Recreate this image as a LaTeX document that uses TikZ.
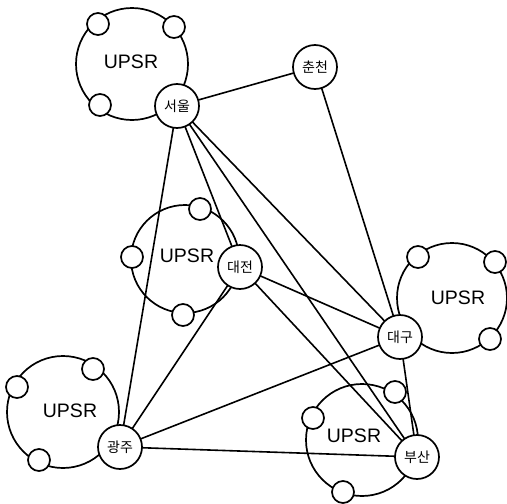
\documentclass[tikz,border=0pt]{standalone}
\usepackage{fontspec}
\setmainfont{Liberation Sans}
\newfontfamily\kr{Noto Sans CJK KR}
\begin{document}
\begin{tikzpicture}[x=1pt,y=-1pt,
  ring/.style={circle,draw,line width=1.7pt,inner sep=0pt},
  sm/.style={circle,draw,fill=white,line width=1.7pt,minimum size=22pt,inner sep=0pt},
  city/.style={circle,draw,fill=white,line width=1.7pt,minimum size=44pt,inner sep=0pt,font=\kr\fontsize{14}{14}\selectfont},
  lbl/.style={font=\fontsize{19.5}{19.5}\selectfont},
  link/.style={line width=1.6pt}]
\useasboundingbox (0,0) rectangle (507,504);
% rings
\node[ring,minimum size=112pt] (r1) at (132,64) {};
\node[ring,minimum size=108pt] (r2) at (185,259) {};
\node[ring,minimum size=110pt] (r3) at (452,298) {};
\node[ring,minimum size=112pt] (r4) at (63,412) {};
\node[ring,minimum size=112pt] (r5) at (362,440) {};
\node[lbl] (u1) at (131,62) {UPSR};
\node[lbl] (u2) at (187,256) {UPSR};
\node[lbl] (u3) at (458,298) {UPSR};
\node[lbl] (u4) at (70,411) {UPSR};
\node[lbl] (u5) at (354,436) {UPSR};
% cities coordinates
\coordinate (cs) at (177,106);
\coordinate (cc) at (315,67);
\coordinate (cd) at (240,267);
\coordinate (cg) at (400,337);
\coordinate (cj) at (120,447);
\coordinate (cb) at (417,457);
% links
\draw[link] (cs) -- (cc);
\draw[link] (cs) -- (cj);
\draw[link] (cs) -- (cd);
\draw[link] (cs) -- (cg);
\draw[link] (cs) -- (cb);
\draw[link] (cc) -- (cg);
\draw[link] (cd) -- (cj);
\draw[link] (cd) -- (cg);
\draw[link] (cd) -- (cb);
\draw[link] (cg) -- (cj);
\draw[link] (cg) -- (cb);
\draw[link] (cj) -- (cb);
% small circles
\node[sm] (s11) at (98,24) {};
\node[sm] (s12) at (174,27) {};
\node[sm] (s13) at (100,105) {};
\node[sm] (s21) at (200,209) {};
\node[sm] (s22) at (132,257) {};
\node[sm] (s23) at (183,315) {};
\node[sm] (s31) at (418,257) {};
\node[sm] (s32) at (495,262) {};
\node[sm] (s33) at (490,339) {};
\node[sm] (s41) at (17,387) {};
\node[sm] (s42) at (93,369) {};
\node[sm] (s43) at (39,460) {};
\node[sm] (s51) at (395,392) {};
\node[sm] (s52) at (313,418) {};
\node[sm] (s53) at (343,492) {};
% city nodes
\node[city] (seoul) at (cs) {서울};
\node[city] (chun) at (cc) {춘천};
\node[city] (daej) at (cd) {대전};
\node[city] (daeg) at (cg) {대구};
\node[city] (gwang) at (cj) {광주};
\node[city] (busan) at (cb) {부산};
\end{tikzpicture}
\end{document}
